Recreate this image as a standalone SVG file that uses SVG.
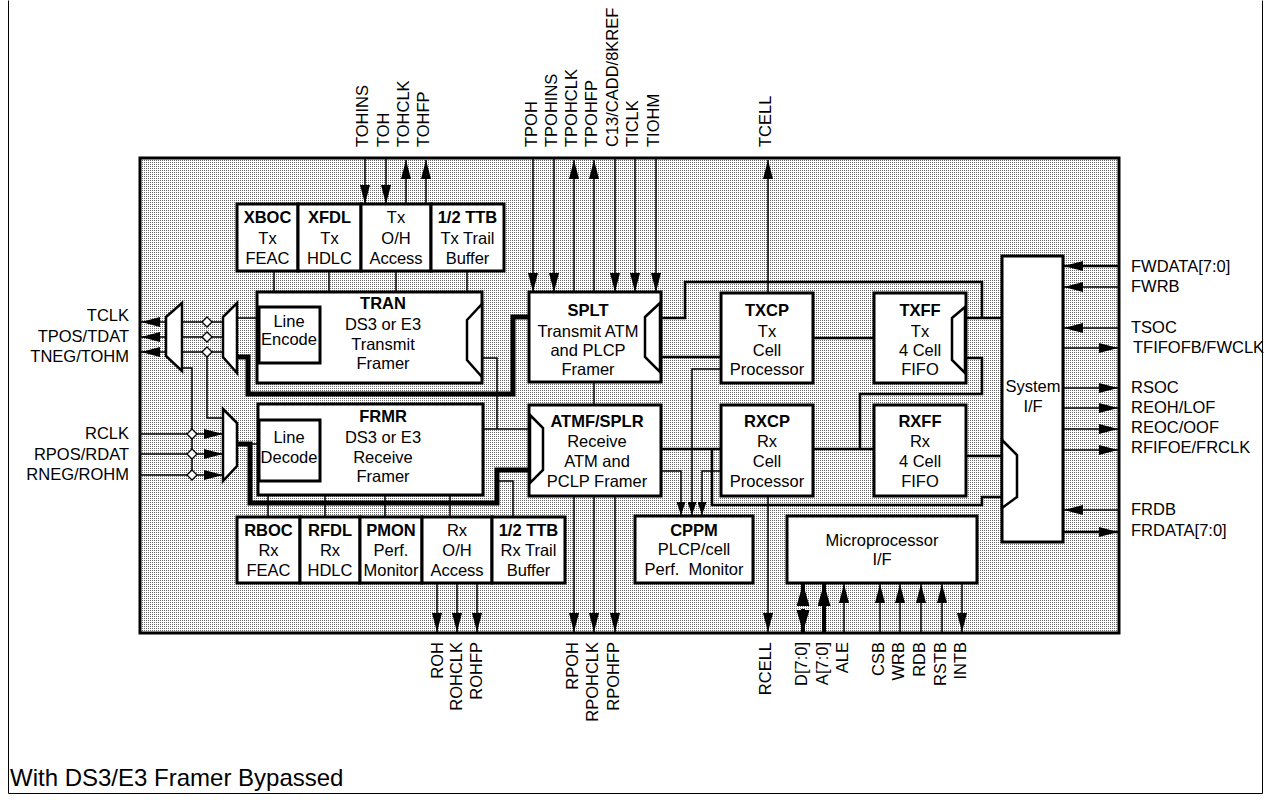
<svg xmlns="http://www.w3.org/2000/svg" width="1271" height="802" viewBox="0 0 1271 802">
<defs>
<pattern id="dots" width="2" height="2" patternUnits="userSpaceOnUse"><rect width="2" height="2" fill="#fff"/><rect width="1" height="1" fill="#6a6a6a"/></pattern>
<marker id="a" viewBox="0 0 19 10" refX="19" refY="5" markerWidth="19" markerHeight="10" markerUnits="userSpaceOnUse" orient="auto"><path d="M0,0L19,5L0,10z" fill="#000"/></marker>
<marker id="as" viewBox="0 0 13 9" refX="13" refY="4.5" markerWidth="13" markerHeight="9" markerUnits="userSpaceOnUse" orient="auto"><path d="M0,0L13,4.5L0,9z" fill="#000"/></marker>
<marker id="ab" viewBox="0 0 22 13" refX="22" refY="6.5" markerWidth="22" markerHeight="13" markerUnits="userSpaceOnUse" orient="auto"><path d="M0,0L22,6.5L0,13z" fill="#000"/></marker>
</defs>
<style>
text{font-family:"Liberation Sans",Arial,sans-serif;font-size:16.5px;fill:#000}
.b{font-weight:bold}
.c{text-anchor:middle}
.e{text-anchor:end}
.box{fill:#fff;stroke:#000;stroke-width:3}
.mux{fill:#fff;stroke:#000;stroke-width:2.5;stroke-linejoin:miter}
.t{fill:none;stroke:#000;stroke-width:1.5}
.k{fill:none;stroke:#000;stroke-width:5}
.bus{fill:none;stroke:#000;stroke-width:2.5}
.dbus{fill:none;stroke:#000;stroke-width:4}
.dia{fill:#fff;stroke:#000;stroke-width:1.3}
.arr{marker-end:url(#a)}
.arrs{marker-end:url(#as)}
.arrb{marker-end:url(#ab)}
</style>
<rect x="0" y="0" width="1271" height="802" fill="#fff"/>
<path d="M8.5,0.5V793.5H1262.5V0.5" fill="none" stroke="#000" stroke-width="1"/>
<g id="chip"><rect x="140" y="158" width="979" height="475" fill="url(#dots)" stroke="#000" stroke-width="3"/></g>

<g id="connectors">
<line class="t arr" x1="365" y1="159" x2="365" y2="204"/>
<line class="t arr" x1="386" y1="159" x2="386" y2="204"/>
<line class="t arr" x1="406" y1="204" x2="406" y2="160"/>
<line class="t arr" x1="426" y1="204" x2="426" y2="160"/>
<line class="t arr" x1="533" y1="159" x2="533" y2="292"/>
<line class="t arr" x1="554" y1="159" x2="554" y2="292"/>
<line class="t arr" x1="574" y1="292" x2="574" y2="160"/>
<line class="t arr" x1="594" y1="292" x2="594" y2="160"/>
<line class="t arr" x1="615" y1="159" x2="615" y2="292"/>
<line class="t arr" x1="635" y1="159" x2="635" y2="292"/>
<line class="t arr" x1="656" y1="159" x2="656" y2="292"/>
<line class="t arr" x1="768" y1="293" x2="768" y2="160"/>
<line class="t" x1="274" y1="271" x2="274" y2="292"/>
<line class="t" x1="329" y1="271" x2="329" y2="292"/>
<line class="t" x1="396" y1="271" x2="396" y2="292"/>
<line class="t" x1="467" y1="271" x2="467" y2="292"/>
<line class="t arr" x1="166" y1="322" x2="141" y2="322"/>
<line class="t arr" x1="166" y1="337" x2="141" y2="337"/>
<line class="t arr" x1="166" y1="352" x2="141" y2="352"/>
<line class="t" x1="182" y1="322" x2="223" y2="322"/>
<line class="t" x1="182" y1="337" x2="223" y2="337"/>
<line class="t" x1="182" y1="352" x2="223" y2="352"/>
<polyline class="t" points="207,352 207,418 223,418"/>
<polyline class="t" points="182,368 192,368 192,475"/>
<line class="t" x1="237" y1="318" x2="259" y2="318"/>
<polyline class="k" points="237,357 248,357 248,394 513,394 513,317 530,317"/>
<line class="t arr" x1="141" y1="434" x2="223" y2="434"/>
<line class="t arr" x1="141" y1="454" x2="223" y2="454"/>
<line class="t arr" x1="141" y1="475" x2="223" y2="475"/>
<line class="t" x1="237" y1="444" x2="259" y2="444"/>
<polyline class="k" points="236,444 250,444 250,503 497,503 497,470 530,470"/>
<circle cx="236" cy="444" r="2.5" fill="#000"/>
<line class="t" x1="268" y1="495" x2="268" y2="517"/>
<line class="t" x1="325" y1="495" x2="325" y2="517"/>
<line class="t" x1="385" y1="495" x2="385" y2="517"/>
<line class="t" x1="450" y1="495" x2="450" y2="517"/>
<polyline class="t" points="497,481 513,481 513,517"/>
<polyline class="t" points="483,358 497,358 497,429"/>
<line class="t" x1="483" y1="429" x2="530" y2="429"/>
<line class="t" x1="594" y1="382" x2="594" y2="405"/>
<polyline class="bus" points="661,318 685,318 685,282 982,282 982,318"/>
<line class="bus" x1="966" y1="318" x2="1002" y2="318"/>
<line class="bus" x1="661" y1="357" x2="721" y2="357"/>
<line class="bus" x1="813" y1="338" x2="874" y2="338"/>
<polyline class="bus" points="966,358 982,358 982,394 860,394 860,449"/>
<line class="bus" x1="661" y1="449" x2="721" y2="449"/>
<line class="bus" x1="813" y1="449" x2="874" y2="449"/>
<line class="bus" x1="966" y1="456" x2="1002" y2="456"/>
<polyline class="bus" points="1002,497 982,497 982,505 712,505 712,449"/>
<polyline class="t arrs" points="661,471 681,471 681,515"/>
<polyline class="t arrs" points="721,369 692,369 692,515"/>
<polyline class="t arrs" points="721,471 702,471 702,515"/>
<line class="bus arr" x1="1119" y1="266" x2="1064" y2="266"/>
<line class="t arr" x1="1119" y1="287" x2="1064" y2="287"/>
<line class="t arr" x1="1119" y1="328" x2="1064" y2="328"/>
<line class="t arr" x1="1063" y1="348" x2="1118" y2="348"/>
<line class="t arr" x1="1063" y1="388" x2="1118" y2="388"/>
<line class="t arr" x1="1063" y1="408" x2="1118" y2="408"/>
<line class="t arr" x1="1063" y1="429" x2="1118" y2="429"/>
<line class="t arr" x1="1063" y1="450" x2="1118" y2="450"/>
<line class="t arr" x1="1119" y1="510" x2="1064" y2="510"/>
<line class="bus arr" x1="1063" y1="532" x2="1118" y2="532"/>
<line class="t arr" x1="437" y1="583" x2="437" y2="632"/>
<line class="t arr" x1="457" y1="583" x2="457" y2="632"/>
<line class="t arr" x1="477" y1="583" x2="477" y2="632"/>
<line class="t arr" x1="574" y1="496" x2="574" y2="632"/>
<line class="t arr" x1="594" y1="496" x2="594" y2="632"/>
<line class="t arr" x1="615" y1="496" x2="615" y2="632"/>
<line class="t arr" x1="768" y1="496" x2="768" y2="632"/>
<line class="dbus arrb" x1="803" y1="606" x2="803" y2="584"/>
<line class="dbus arrb" x1="803" y1="609" x2="803" y2="632"/>
<line class="dbus arrb" x1="824" y1="632" x2="824" y2="584"/>
<line class="t arr" x1="844" y1="632" x2="844" y2="584"/>
<line class="t arr" x1="880" y1="632" x2="880" y2="584"/>
<line class="t arr" x1="900" y1="632" x2="900" y2="584"/>
<line class="t arr" x1="921" y1="632" x2="921" y2="584"/>
<line class="t arr" x1="942" y1="632" x2="942" y2="584"/>
<line class="t arr" x1="962" y1="583" x2="962" y2="632"/>
<g class="dia">
<polygon points="207,317 212,322 207,327 202,322"/>
<polygon points="207,332 212,337 207,342 202,337"/>
<polygon points="207,347 212,352 207,357 202,352"/>
<polygon points="192,429 197,434 192,439 187,434"/>
<polygon points="192,449 197,454 192,459 187,454"/>
<polygon points="192,470 197,475 192,480 187,475"/>
</g>
</g>

<g id="mux-tx-out"><polygon class="mux" points="166,317 182,303 182,371 166,356"/></g>
<g id="mux-tx-in"><polygon class="mux" points="223,317 237,303 237,373 223,357"/></g>
<g id="mux-rx"><polygon class="mux" points="223,409 237,423 237,466 223,481"/></g>

<g id="xboc"><rect class="box" x="237" y="204" width="61" height="67"/><text class="c b" x="267.5" y="223">XBOC</text><text class="c" x="267.5" y="244">Tx</text><text class="c" x="267.5" y="264">FEAC</text></g>
<g id="xfdl"><rect class="box" x="298" y="204" width="63" height="67"/><text class="c b" x="329.5" y="223">XFDL</text><text class="c" x="329.5" y="244">Tx</text><text class="c" x="329.5" y="264">HDLC</text></g>
<g id="txoh"><rect class="box" x="361" y="204" width="70" height="67"/><text class="c" x="396" y="223">Tx</text><text class="c" x="396" y="244">O/H</text><text class="c" x="396" y="264">Access</text></g>
<g id="txttb"><rect class="box" x="431" y="204" width="73" height="67"/><text class="c b" x="467.5" y="223">1/2 TTB</text><text class="c" x="467.5" y="244">Tx Trail</text><text class="c" x="467.5" y="264">Buffer</text></g>

<g id="tran"><rect class="box" x="257" y="292" width="225" height="91"/>
<text class="c b" x="383" y="309">TRAN</text><text class="c" x="383" y="330">DS3 or E3</text><text class="c" x="383" y="350">Transmit</text><text class="c" x="383" y="369">Framer</text>
<rect class="box" x="259" y="307" width="61" height="56"/><text class="c" x="289" y="327">Line</text><text class="c" x="289" y="345">Encode</text>
<polygon class="mux" points="467,320 482,304 482,377 467,360"/></g>

<g id="frmr"><rect class="box" x="258" y="404" width="225" height="91"/>
<text class="c b" x="383" y="422">FRMR</text><text class="c" x="383" y="443">DS3 or E3</text><text class="c" x="383" y="463">Receive</text><text class="c" x="383" y="482">Framer</text>
<rect class="box" x="259" y="420" width="61" height="61"/><text class="c" x="289" y="443">Line</text><text class="c" x="289" y="463">Decode</text></g>

<g id="rboc"><rect class="box" x="237" y="517" width="63" height="66"/><text class="c b" x="268.5" y="536">RBOC</text><text class="c" x="268.5" y="556">Rx</text><text class="c" x="268.5" y="576">FEAC</text></g>
<g id="rfdl"><rect class="box" x="300" y="517" width="60" height="66"/><text class="c b" x="330" y="536">RFDL</text><text class="c" x="330" y="556">Rx</text><text class="c" x="330" y="576">HDLC</text></g>
<g id="pmon"><rect class="box" x="360" y="517" width="62" height="66"/><text class="c b" x="391" y="536">PMON</text><text class="c" x="391" y="556">Perf.</text><text class="c" x="391" y="576">Monitor</text></g>
<g id="rxoh"><rect class="box" x="422" y="517" width="70" height="66"/><text class="c" x="457" y="536">Rx</text><text class="c" x="457" y="556">O/H</text><text class="c" x="457" y="576">Access</text></g>
<g id="rxttb"><rect class="box" x="492" y="517" width="73" height="66"/><text class="c b" x="528.5" y="536">1/2 TTB</text><text class="c" x="528.5" y="556">Rx Trail</text><text class="c" x="528.5" y="576">Buffer</text></g>

<g id="splt"><rect class="box" x="529" y="292" width="132" height="90"/>
<text class="c b" x="588" y="316">SPLT</text><text class="c" x="588" y="337">Transmit ATM</text><text class="c" x="588" y="356">and PLCP</text><text class="c" x="588" y="375">Framer</text>
<polygon class="mux" points="645,317 660,303 660,372 645,357"/></g>

<g id="atmf"><rect class="box" x="529" y="405" width="132" height="91"/>
<text class="c b" x="597" y="427">ATMF/SPLR</text><text class="c" x="597" y="447">Receive</text><text class="c" x="597" y="467">ATM and</text><text class="c" x="597" y="487">PCLP Framer</text>
<polygon class="mux" points="530,415 543,428 543,470 530,483"/></g>

<g id="txcp"><rect class="box" x="721" y="293" width="92" height="90"/><text class="c b" x="767" y="316">TXCP</text><text class="c" x="767" y="337">Tx</text><text class="c" x="767" y="356">Cell</text><text class="c" x="767" y="375">Processor</text></g>
<g id="rxcp"><rect class="box" x="721" y="405" width="92" height="91"/><text class="c b" x="767" y="427">RXCP</text><text class="c" x="767" y="447">Rx</text><text class="c" x="767" y="467">Cell</text><text class="c" x="767" y="487">Processor</text></g>

<g id="txff"><rect class="box" x="874" y="293" width="92" height="90"/><text class="c b" x="920" y="316">TXFF</text><text class="c" x="920" y="337">Tx</text><text class="c" x="920" y="356">4 Cell</text><text class="c" x="920" y="375">FIFO</text>
<polygon class="mux" points="952,318 965,307 965,373 952,360"/></g>
<g id="rxff"><rect class="box" x="874" y="405" width="92" height="91"/><text class="c b" x="920" y="427">RXFF</text><text class="c" x="920" y="447">Rx</text><text class="c" x="920" y="467">4 Cell</text><text class="c" x="920" y="487">FIFO</text></g>

<g id="sysif"><rect class="box" x="1002" y="256" width="61" height="286"/><text class="c" x="1033" y="392">System</text><text class="c" x="1033" y="412">I/F</text>
<polygon class="mux" points="1002,440 1017,455 1017,497 1002,508"/></g>

<g id="cppm"><rect class="box" x="635" y="516" width="118" height="67"/><text class="c b" x="694" y="536">CPPM</text><text class="c" x="694" y="555">PLCP/cell</text><text class="c" x="694" y="575">Perf.&#160; Monitor</text></g>
<g id="upif"><rect class="box" x="787" y="516" width="190" height="67"/><text class="c" x="882" y="546">Microprocessor</text><text class="c" x="882" y="565">I/F</text></g>

<g id="labels-top">
<text transform="translate(368,147) rotate(-90)">TOHINS</text>
<text transform="translate(389,147) rotate(-90)">TOH</text>
<text transform="translate(409,147) rotate(-90)">TOHCLK</text>
<text transform="translate(429,147) rotate(-90)">TOHFP</text>
<text transform="translate(537,147) rotate(-90)">TPOH</text>
<text transform="translate(557,147) rotate(-90)">TPOHINS</text>
<text transform="translate(577,147) rotate(-90)">TPOHCLK</text>
<text transform="translate(597,147) rotate(-90)">TPOHFP</text>
<text transform="translate(618,147) rotate(-90)">C13/CADD/8KREF</text>
<text transform="translate(638,147) rotate(-90)">TICLK</text>
<text transform="translate(659,147) rotate(-90)">TIOHM</text>
<text transform="translate(771,147) rotate(-90)">TCELL</text>
</g>
<g id="labels-left">
<text class="e" x="129" y="321">TCLK</text>
<text class="e" x="129" y="342">TPOS/TDAT</text>
<text class="e" x="129" y="362">TNEG/TOHM</text>
<text class="e" x="129" y="439">RCLK</text>
<text class="e" x="129" y="460">RPOS/RDAT</text>
<text class="e" x="129" y="480">RNEG/ROHM</text>
</g>
<g id="labels-right">
<text x="1131" y="272">FWDATA[7:0]</text>
<text x="1131" y="292">FWRB</text>
<text x="1131" y="333">TSOC</text>
<text x="1133" y="353">TFIFOFB/FWCLK</text>
<text x="1131" y="393">RSOC</text>
<text x="1131" y="413">REOH/LOF</text>
<text x="1131" y="433">REOC/OOF</text>
<text x="1131" y="453">RFIFOE/FRCLK</text>
<text x="1131" y="515">FRDB</text>
<text x="1131" y="536">FRDATA[7:0]</text>
</g>
<g id="labels-bottom">
<text class="e" transform="translate(443,642) rotate(-90)">ROH</text>
<text class="e" transform="translate(462,642) rotate(-90)">ROHCLK</text>
<text class="e" transform="translate(482,642) rotate(-90)">ROHFP</text>
<text class="e" transform="translate(578,642) rotate(-90)">RPOH</text>
<text class="e" transform="translate(598,642) rotate(-90)">RPOHCLK</text>
<text class="e" transform="translate(619,642) rotate(-90)">RPOHFP</text>
<text class="e" transform="translate(771,642) rotate(-90)">RCELL</text>
<text class="e" transform="translate(807,642) rotate(-90)">D[7:0]</text>
<text class="e" transform="translate(828,642) rotate(-90)">A[7:0]</text>
<text class="e" transform="translate(848,642) rotate(-90)">ALE</text>
<text class="e" transform="translate(884,642) rotate(-90)">CSB</text>
<text class="e" transform="translate(904,642) rotate(-90)">WRB</text>
<text class="e" transform="translate(925,642) rotate(-90)">RDB</text>
<text class="e" transform="translate(946,642) rotate(-90)">RSTB</text>
<text class="e" transform="translate(966,642) rotate(-90)">INTB</text>
</g>
<text x="10" y="786" style="font-size:24px">With DS3/E3 Framer Bypassed</text>
</svg>
